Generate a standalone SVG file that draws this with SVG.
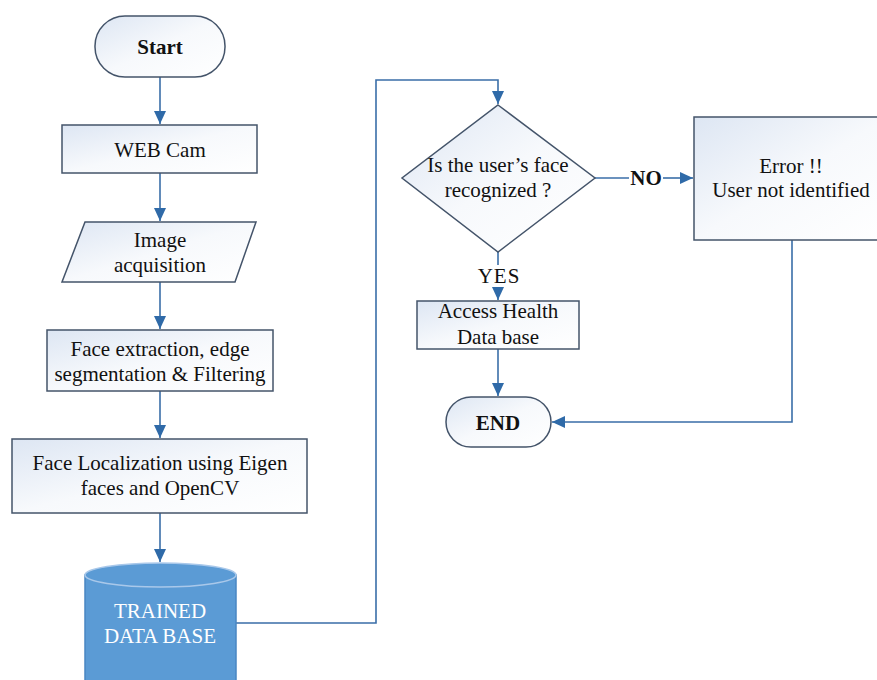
<svg xmlns="http://www.w3.org/2000/svg" width="877" height="680" viewBox="0 0 877 680">
<style>
.box{fill:url(#g);stroke:#44546a;stroke-width:1.5}
.t{font-family:'Liberation Serif','Times New Roman','DejaVu Serif',serif;font-size:21px;fill:#111;text-anchor:middle}
.b{font-weight:bold}
.c{fill:none;stroke:#3a6ea8;stroke-width:1.6}
.w{fill:#fff}
</style>
<defs>
<linearGradient id="g" x1="0" y1="0" x2="1" y2="1">
<stop offset="0" stop-color="#dde6f3"/>
<stop offset="0.5" stop-color="#f7f9fc"/>
<stop offset="1" stop-color="#ffffff"/>
</linearGradient>
<marker id="a" markerUnits="userSpaceOnUse" markerWidth="14" markerHeight="14" viewBox="0 0 14 14" refX="13" refY="7" orient="auto">
<path d="M0,1 L13,7 L0,13 Z" fill="#2f6aa8"/>
</marker>
</defs>
<g id="connectors">
<path class="c" d="M160,77 V124" marker-end="url(#a)"/>
<path class="c" d="M160,173 V221" marker-end="url(#a)"/>
<path class="c" d="M160,282 V329" marker-end="url(#a)"/>
<path class="c" d="M160,391 V438" marker-end="url(#a)"/>
<path class="c" d="M160,513 V562" marker-end="url(#a)"/>
<path class="c" d="M236,623 H376 V80 H498 V104" marker-end="url(#a)"/>
<path class="c" d="M595,178 H629"/>
<path class="c" d="M663,178 H693" marker-end="url(#a)"/>
<path class="c" d="M498,252 V265"/>
<path class="c" d="M498,287 V300" marker-end="url(#a)"/>
<path class="c" d="M498,349 V396" marker-end="url(#a)"/>
<path class="c" d="M792,240 V422 H552" marker-end="url(#a)"/>
<text class="t b" x="646" y="185" font-size="20">NO</text>
<text class="t" x="499" y="283" font-size="17" letter-spacing="1">YES</text>
</g>
<g id="start">
<rect class="box" x="95" y="16" width="130" height="61" rx="30"/>
<text class="t b" x="160" y="54">Start</text>
</g>
<g id="webcam">
<rect class="box" x="62" y="125" width="195" height="48"/>
<text class="t" x="160" y="157">WEB Cam</text>
</g>
<g id="image">
<path class="box" d="M85,222 H256 L235,282 H62 Z"/>
<text class="t" x="160" y="247">Image</text>
<text class="t" x="160" y="272">acquisition</text>
</g>
<g id="extraction">
<rect class="box" x="47" y="330" width="226" height="61"/>
<text class="t" x="160" y="356">Face extraction, edge</text>
<text class="t" x="160" y="381">segmentation &amp; Filtering</text>
</g>
<g id="localization">
<rect class="box" x="12" y="439" width="295" height="74"/>
<text class="t" x="160" y="470">Face Localization using Eigen</text>
<text class="t" x="160" y="495">faces and OpenCV</text>
</g>
<g id="trained">
<path d="M85,575 V690 H236 V575 Z" fill="#5b9bd5" stroke="#4a87c2" stroke-width="1.5"/>
<ellipse cx="160.5" cy="575" rx="75.5" ry="12" fill="#5b9bd5" stroke="#a9c8ea" stroke-width="1.5"/>
<text class="t w" x="160" y="618">TRAINED</text>
<text class="t w" x="160" y="643">DATA BASE</text>
</g>
<g id="decision">
<path class="box" d="M498,105 L595,178 L498,252 L402,178 Z"/>
<text class="t" x="498" y="172">Is the user’s face</text>
<text class="t" x="498" y="197">recognized ?</text>
</g>
<g id="error">
<rect class="box" x="694" y="117" width="194" height="123"/>
<text class="t" x="791" y="173">Error !!</text>
<text class="t" x="791" y="197">User not identified</text>
</g>
<g id="access">
<rect class="box" x="417" y="301" width="162" height="48"/>
<text class="t" x="498" y="318">Access Health</text>
<text class="t" x="498" y="344">Data base</text>
</g>
<g id="end">
<rect class="box" x="446" y="397" width="105" height="50" rx="25"/>
<text class="t b" x="498" y="430">END</text>
</g>
</svg>
